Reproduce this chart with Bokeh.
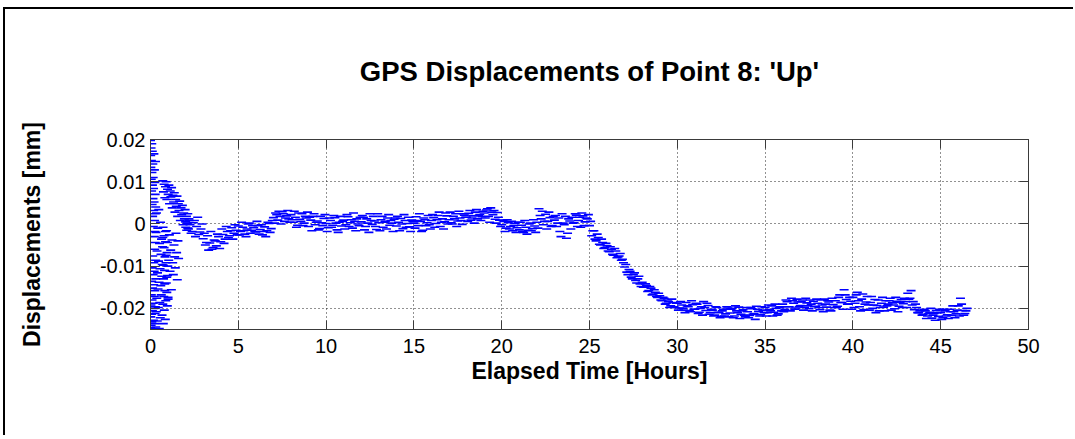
import numpy as np
from bokeh.plotting import figure
from bokeh.models import Range1d, FixedTicker, LinearAxis, ColumnDataSource
from bokeh.embed import file_html
from bokeh.resources import INLINE

# ---------------- data (displacement values in 1e-3 mm) ----------------
title_text = "GPS Displacements of Point 8: 'Up'"
x_label = "Elapsed Time [Hours]"
y_label = "Displacements [mm]"
x_ticks = [0, 5, 10, 15, 20, 25, 30, 35, 40, 45, 50]
y_ticks = [-0.02, -0.01, 0, 0.01, 0.02]
y_tick_labels = ["-0.02", "-0.01", "0", "0.01", "0.02"]

# early convergence phase (0 - 2.2 h)
early_a_span = (0.0, 0.30)
early_a = [19.8, -24.6, 16.2, -22.0, 13.4, -19.2, 18.0, -24.0, 10.6, -16.8,
           15.0, -21.4, 7.8, -13.6, 19.0, -23.2, 12.2, -18.0, 4.6, -10.4,
           17.2, -20.6, 9.2, -15.2, 1.8, -7.6, 14.2, -24.8, 6.0, -12.0,
           11.0, -18.8, -0.6, -22.8, 8.4, -14.4, 3.2, -9.2, 16.6, -20.0,
           5.2, -11.2, -3.0, -17.2, 12.8, -23.6, 0.8, -6.0, 9.8, -15.8,
           -1.8, -21.2, 7.0, -4.4, 2.4, -19.6, 14.8, -8.6, 4.0, -13.0]
early_b_span = (0.30, 1.0)
early_b = [-24.4, -2.0, -20.8, 2.6, -17.6, -6.4, -23.0, -11.6, -1.0, -15.4,
           -19.8, -8.8, 3.4, -13.8, -24.8, -4.6, -18.6, -10.6, -22.2, 0.4,
           -14.6, -7.2, -16.8, -3.6, -12.4, -21.6, -9.6, -5.4, -19.0, -0.8,
           -23.6, -13.0, -17.2, -2.8, -20.4, -11.0, -15.8, -7.8, -22.6, -4.2,
           -18.2, -9.2, -14.0, -1.6, -16.2, -6.8, -19.4, -12.2, -10.0, -17.8]
early_c_span = (0.7, 2.2)
early_c = [10.2, 7.6, 9.4, 6.2, 8.8, 10.0, 5.8, 8.2, 7.0, 9.2,
           4.8, 7.8, 6.4, 8.6, 3.8, 6.8, 5.2, 7.4, 2.8, 5.8,
           4.2, 6.6, 1.8, 4.8, 3.2, 5.4, 0.8, 3.8, 2.2, 4.4,
           -0.2, 2.6, 1.2, 3.4, -0.8, 1.8, 0.2, 2.4, -1.2, 0.8]
early_d_span = (0.7, 1.6)
early_d = [-3.2, -9.8, -5.6, -14.2, -1.8, -7.4, -12.6, -4.4, -17.4, -8.6,
           -2.6, -11.2, -6.2, -15.6, -3.8, -9.2, -12.0, -5.0, -7.8, -10.4,
           -2.2, -6.8, -13.2, -4.0, -8.2]

# main record, every 7.5 minutes from 2.0 h (first solution set)
main_start = 2.0
main_step = 0.125
main_up = [
    0.5, -1.0, -0.2, -1.8, 0.8, -0.6, -2.5, -1.2,        # 2
    -3.5, -5.0, -2.8, -4.5, -6.0, -3.8, -5.2, -3.0,      # 3
    -4.2, -2.5, -3.6, -1.8, -2.8, -0.9, -2.2, -1.5,      # 4
    -0.5, -1.8, -0.8, -2.4, -1.2, 0.2, -1.5, -0.9,       # 5
    -1.9, -0.4, -1.3, -2.6, -0.7, -1.6, 0.1, -1.1,       # 6
    1.5, 2.6, 0.9, 1.8, 2.9, 0.6, 1.9, 1.2,              # 7
    2.2, 0.4, 1.6, -0.3, 1.1, 2.4, 0.2, 1.4,             # 8
    -0.6, 0.9, 1.8, -0.2, 0.7, -1.1, 0.3, 1.3,           # 9
    0.1, -0.9, 0.8, -0.3, 1.5, -1.4, 0.4, -0.5,          # 10
    0.9, -0.2, 1.7, 0.3, -1.0, 0.6, 1.2, -0.4,           # 11
    0.5, 1.6, -0.6, 0.2, 2.4, -0.1, 0.7, -1.3,           # 12
    0.3, 1.0, -0.8, 0.6, 1.4, -0.3, 0.2, 1.1,            # 13
    -0.5, 0.4, 1.3, -1.1, 0.8, 0.1, -0.7, 0.9,           # 14
    0.2, 1.7, -0.4, 0.6, -1.5, 1.0, 0.3, -0.2,           # 15
    0.8, 1.5, 0.1, 2.0, -0.6, 1.2, 0.5, 1.9,             # 16
    1.0, 0.3, 1.8, 2.4, 0.7, 1.4, -0.1, 2.1,             # 17
    1.6, 2.5, 0.9, 1.9, 2.8, 1.2, 2.2, 1.7,              # 18
    2.6, 3.3, 1.8, 3.8, 2.2, 1.1, 2.7, 0.9,              # 19
    -0.2, 0.6, -1.0, 0.3, -0.6, -1.6, 0.1, -0.9,         # 20
    -1.4, -0.3, -2.0, -0.8, -1.5, 0.2, -1.1, -0.5,       # 21
    0.4, 3.6, 1.2, -0.2, 2.3, 0.6, 1.5, -0.4,            # 22
    0.9, -0.6, 1.4, -3.0, 0.2, 1.8, -2.2, 0.7,           # 23
    1.6, 0.3, 2.1, 0.8, -0.8, 1.9, 0.5, 1.2,             # 24
    -0.4, -2.8, -1.6, -4.0, -3.2, -5.0, -4.4, -5.6,      # 25
    -5.2, -6.6, -6.0, -7.4, -6.4, -7.8, -7.0, -8.4,      # 26
    -10.2, -11.4, -10.8, -12.6, -12.0, -13.4, -13.0, -14.2,  # 27
    -13.8, -15.0, -14.6, -15.8, -15.2, -16.6, -16.2, -17.4,  # 28
    -17.0, -18.2, -17.6, -18.8, -18.4, -19.4, -18.6, -19.8,  # 29
    -18.8, -19.9, -19.2, -20.4, -18.6, -19.6, -20.8, -19.1,  # 30
    -20.2, -19.0, -20.9, -19.6, -18.4, -20.5, -19.3, -21.0,  # 31
    -20.4, -21.6, -19.8, -20.9, -21.9, -20.2, -21.3, -19.9,  # 32
    -21.1, -20.0, -21.8, -20.6, -19.7, -21.4, -20.3, -22.0,  # 33
    -20.8, -21.7, -20.1, -21.2, -19.5, -20.7, -21.5, -20.4,  # 34
    -19.8, -21.0, -20.3, -19.4, -20.9, -20.0, -21.3, -19.6,  # 35
    -19.0, -20.2, -18.4, -19.6, -17.6, -18.8, -19.9, -18.5,  # 36
    -19.3, -18.0, -19.8, -18.7, -20.1, -19.0, -18.3, -19.5,  # 37
    -18.8, -20.3, -19.2, -17.8, -19.7, -18.5, -20.6, -19.1,  # 38
    -18.2, -19.5, -16.8, -18.6, -15.6, -17.9, -19.0, -18.3,  # 39
    -17.4, -18.8, -16.2, -19.6, -17.8, -20.3, -18.5, -19.2,  # 40
    -18.6, -20.0, -17.9, -19.3, -20.6, -18.8, -19.7, -18.2,  # 41
    -19.0, -17.6, -18.7, -20.1, -18.3, -19.5, -17.9, -18.9,  # 42
    -18.4, -16.4, -17.6, -19.2, -20.3, -19.8, -21.0, -20.4,  # 43
    -21.4, -20.6, -21.8, -20.9, -22.3, -21.2, -20.5, -21.9,  # 44
    -21.0, -22.2, -20.6, -21.5, -20.2, -21.7, -20.8, -21.3,  # 45
    -19.4, -17.6, -20.5, -21.2, -20.0,                       # 46
]

# second solution set, offset by half a step
second_start = 2.0625
second_up = [
    -1.5, 1.2, -2.2, 0.3, -3.0, 1.6, -1.9, 0.0,           # 2
    -2.2, -4.4, -6.2, -1.8, -5.6, -4.0, -2.4, -5.8,       # 3
    -1.2, -4.6, -0.6, -3.2, -1.6, -3.6, -0.2, -2.6,       # 4
    -2.6, 0.4, -1.6, -3.0, 0.0, -2.2, -0.4, -1.8,         # 5
    0.6, -2.4, -0.2, -1.8, -3.0, 0.4, -2.0, 0.8,          # 6
    0.2, 2.2, 3.0, 0.0, 2.4, 1.4, 3.2, 0.4,               # 7
    1.0, 3.0, -0.8, 2.6, 0.6, -0.4, 1.8, 2.8,             # 8
    1.6, -1.6, 2.4, 0.4, -1.4, 1.8, -0.4, 2.2,            # 9
    -1.8, 1.4, -0.8, 2.0, 0.2, -2.0, 1.8, 0.6,            # 10
    -1.2, 2.2, -0.6, 1.0, 2.6, -1.6, 0.0, 1.6,            # 11
    2.0, -1.4, 1.2, -2.0, 0.8, 1.8, -0.6, 2.4,            # 12
    -1.6, 1.8, 0.4, -1.2, 2.2, 0.8, -1.8, 1.4,            # 13
    1.8, -1.6, 0.0, 2.2, -0.8, 1.6, -1.8, 0.6,            # 14
    -1.0, 0.8, 2.4, -1.8, 1.4, -0.4, 2.0, -1.2,           # 15
    2.2, -0.8, 1.0, 2.8, 0.4, -1.2, 2.6, 0.0,             # 16
    2.8, 0.0, 1.2, -0.6, 3.0, 0.8, 2.4, 1.6,              # 17
    0.6, 3.2, 1.4, 0.2, 3.4, 2.0, 0.8, 3.0,               # 18
    1.4, 3.6, 0.4, 2.8, 3.2, 0.2, 1.6, -0.6,              # 19
    0.8, -1.8, 1.0, -1.2, 0.6, -0.4, -2.0, 0.4,           # 20
    0.4, -1.8, 0.8, -2.4, 0.0, -1.6, 1.0, -2.0,           # 21
    -1.0, 2.0, 3.0, 0.6, -1.2, 2.8, -0.6, 1.8,            # 22
    2.0, 0.2, -1.8, 2.4, -0.2, -3.4, 1.2, -1.2,           # 23
    0.2, 2.4, -0.6, 1.6, 2.6, -0.4, 1.4, 2.2,             # 24
    0.6, -1.6, -3.6, -2.4, -4.8, -3.6, -5.8, -4.6,        # 25
    -6.4, -5.4, -7.2, -5.8, -8.0, -7.6, -8.6, -9.2,       # 26
    -9.6, -12.0, -11.2, -13.0, -11.6, -14.0, -12.4, -14.8,   # 27
    -15.0, -14.2, -16.0, -14.8, -16.8, -15.6, -17.2, -16.4,  # 28
    -18.0, -17.4, -19.0, -18.0, -19.8, -17.8, -19.6, -18.8,  # 29
    -20.4, -18.4, -20.0, -21.0, -19.4, -20.6, -18.2, -20.2,  # 30
    -18.8, -21.2, -20.0, -21.6, -19.8, -18.8, -21.4, -20.2,  # 31
    -21.8, -19.6, -21.0, -22.2, -20.6, -21.8, -19.6, -22.0,  # 32
    -20.2, -22.2, -19.4, -21.0, -22.4, -20.6, -21.6, -19.8,  # 33
    -22.2, -19.8, -21.4, -22.6, -20.2, -21.8, -19.6, -21.0,  # 34
    -21.8, -19.2, -20.6, -21.8, -19.0, -21.6, -19.8, -20.6,  # 35
    -20.8, -18.0, -19.6, -20.6, -18.2, -20.2, -17.8, -19.6,  # 36
    -18.4, -20.4, -17.6, -19.4, -18.0, -20.6, -19.6, -17.8,  # 37
    -19.8, -18.0, -20.8, -19.0, -18.2, -20.4, -17.6, -19.8,  # 38
    -19.8, -17.4, -18.6, -20.2, -16.8, -19.0, -17.4, -20.2,  # 39
    -19.8, -16.8, -18.2, -20.6, -16.6, -19.0, -17.2, -20.4,  # 40
    -17.2, -19.2, -21.0, -18.0, -19.8, -17.4, -20.6, -19.4,  # 41
    -18.2, -20.4, -19.2, -17.4, -20.8, -18.6, -19.8, -17.6,  # 42
    -19.8, -17.8, -15.8, -18.4, -19.0, -21.0, -20.6, -21.6,  # 43
    -20.2, -22.4, -21.2, -20.0, -21.6, -22.8, -21.0, -20.2,  # 44
    -22.6, -20.2, -21.8, -22.4, -20.8, -19.4, -22.2, -20.4,  # 45
    -21.8, -19.0, -21.6, -20.6,                              # 46
]

# ---------------- assemble ----------------
def block(span, vals):
    return list(np.linspace(span[0], span[1], len(vals))), list(vals)

xs, ys = [], []
for span, vals in [(early_a_span, early_a), (early_b_span, early_b),
                   (early_c_span, early_c), (early_d_span, early_d)]:
    bx, by = block(span, vals)
    xs += bx
    ys += by
xs += [main_start + main_step * i for i in range(len(main_up))]
ys += main_up
xs += [second_start + main_step * i for i in range(len(second_up))]
ys += second_up
src = ColumnDataSource(dict(t=xs, up=[v * 1e-3 for v in ys]))

FONT = "Liberation Sans"

p = figure(width=1070, height=428, output_backend="svg", toolbar_location=None,
           x_range=Range1d(0, 50), y_range=Range1d(-0.025, 0.02),
           min_border_left=145, min_border_right=47, min_border_top=130,
           min_border_bottom=108)
p.styles = {"border-top": "2px solid black", "border-left": "2px solid black",
            "margin-top": "7px", "margin-left": "3px"}

p.title.text = title_text
p.title.align = "center"
p.title.text_font = FONT
p.title.text_font_size = "27.5px"
p.title.text_font_style = "bold"
p.title.text_color = "black"
p.title.standoff = 6

p.scatter("t", "up", source=src, marker="dash", size=9, line_color="#0000ff",
          line_width=1.6)

axis_col = "#3a3a3a"
p.outline_line_color = axis_col
for ax in (p.xaxis[0], p.yaxis[0]):
    ax.axis_line_color = axis_col
    ax.major_tick_line_color = axis_col
    ax.major_tick_in = 9
    ax.major_tick_out = 0
    ax.minor_tick_line_color = None
    ax.major_label_text_font = FONT
    ax.major_label_text_font_size = "20px"
    ax.major_label_text_color = "black"
    ax.axis_label_text_font = FONT
    ax.axis_label_text_font_size = "23px"
    ax.axis_label_text_font_style = "bold"
    ax.axis_label_text_color = "black"

p.xaxis.ticker = FixedTicker(ticks=x_ticks)
p.yaxis.ticker = FixedTicker(ticks=y_ticks)
p.yaxis.major_label_overrides = {t: l for t, l in zip(y_ticks, y_tick_labels)}
p.xaxis.axis_label = x_label
p.yaxis.axis_label = y_label
p.xaxis.major_label_standoff = 9
p.yaxis.major_label_standoff = 5
p.xaxis.axis_label_standoff = 2
p.yaxis.axis_label_standoff = 52

# mirrored ticks on the right and top edges of the box
for loc, tick in (("right", y_ticks), ("above", x_ticks)):
    ax = LinearAxis(ticker=FixedTicker(ticks=tick),
                    major_label_overrides={t: "" for t in tick},
                    major_tick_in=9, major_tick_out=0, minor_tick_line_color=None,
                    axis_line_color=axis_col, major_tick_line_color=axis_col,
                    major_label_standoff=0)
    p.add_layout(ax, loc)

# invisible spacer between the box and the title
spacer = LinearAxis(ticker=FixedTicker(ticks=x_ticks),
                    major_label_overrides={t: "" for t in x_ticks},
                    major_tick_in=0, major_tick_out=50, minor_tick_line_color=None,
                    axis_line_color=None, major_tick_line_color=None,
                    major_label_standoff=0)
p.add_layout(spacer, "above")

for g in (p.xgrid[0], p.ygrid[0]):
    g.grid_line_color = "#222222"
    g.grid_line_dash = "1 3"
    g.grid_line_alpha = 1.0
p.xgrid.ticker = FixedTicker(ticks=x_ticks)
p.ygrid.ticker = FixedTicker(ticks=y_ticks)

open("out.html", "w").write(file_html(p, INLINE))
